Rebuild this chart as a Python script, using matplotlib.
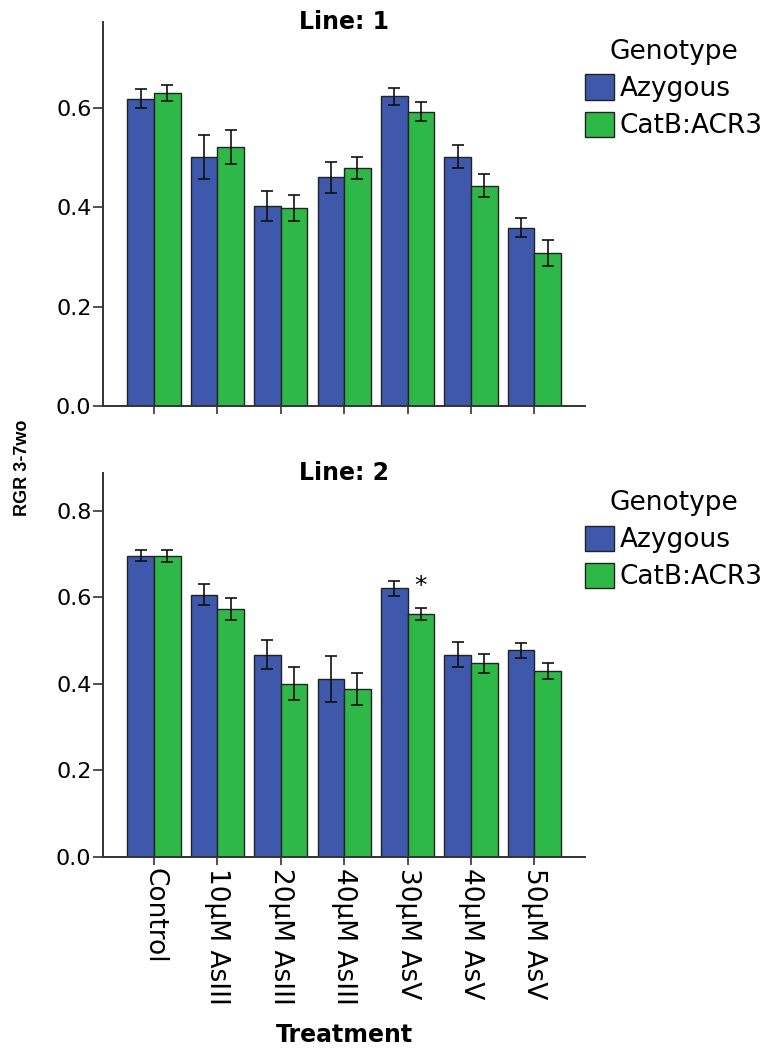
import matplotlib
matplotlib.use("Agg")
import matplotlib.pyplot as plt
import numpy as np
from matplotlib.ticker import FormatStrFormatter

categories = ["Control", "10µM AsIII", "20µM AsIII", "40µM AsIII",
              "30µM AsV", "40µM AsV", "50µM AsV"]
genotypes = ["Azygous", "CatB:ACR3"]

line1_azygous = [0.619, 0.501, 0.403, 0.461, 0.624, 0.502, 0.359]
line1_azygous_err = [0.019, 0.044, 0.031, 0.031, 0.017, 0.023, 0.019]
line1_catb = [0.631, 0.521, 0.398, 0.479, 0.593, 0.444, 0.308]
line1_catb_err = [0.016, 0.034, 0.026, 0.022, 0.020, 0.024, 0.026]

line2_azygous = [0.696, 0.606, 0.467, 0.411, 0.620, 0.467, 0.477]
line2_azygous_err = [0.013, 0.025, 0.033, 0.053, 0.018, 0.029, 0.017]
line2_catb = [0.695, 0.573, 0.400, 0.387, 0.561, 0.447, 0.430]
line2_catb_err = [0.013, 0.026, 0.038, 0.037, 0.013, 0.021, 0.018]

panel_titles = ["Line: 1", "Line: 2"]
line1_yticks = [0.0, 0.2, 0.4, 0.6]
line2_yticks = [0.0, 0.2, 0.4, 0.6, 0.8]
star_index = 4  # 30µM AsV, CatB:ACR3 in Line 2

colors = ["#3E58AC", "#2EB848"]
edge = "#222222"
spine_col = "#333333"

plt.rcParams['font.family'] = ['DejaVu Sans']

W, H = 778, 1053
fig = plt.figure(figsize=(W / 100, H / 100), dpi=100)

def fx(px):
    return px / W

def fy(py):
    return 1 - py / H

left, right = 103.3, 585
ax1 = fig.add_axes([fx(left), fy(406), fx(right) - fx(left), fy(21.7) - fy(406)])
ax2 = fig.add_axes([fx(left), fy(857), fx(right) - fx(left), fy(473.3) - fy(857)])

x = np.arange(len(categories))
bw = 0.42

panels = [
    (ax1, line1_azygous, line1_azygous_err, line1_catb, line1_catb_err, line1_yticks, 0.774),
    (ax2, line2_azygous, line2_azygous_err, line2_catb, line2_catb_err, line2_yticks, 0.886),
]

for i, (ax, az, aze, cb, cbe, yt, ytop) in enumerate(panels):
    b1 = ax.bar(x - bw / 2, az, bw, color=colors[0], edgecolor=edge, linewidth=1.0, label=genotypes[0], zorder=2)
    b2 = ax.bar(x + bw / 2, cb, bw, color=colors[1], edgecolor=edge, linewidth=1.0, label=genotypes[1], zorder=2)
    ax.errorbar(x - bw / 2, az, yerr=aze, fmt='none', ecolor='#111111', elinewidth=1.2, capsize=4, capthick=1.2, zorder=3)
    ax.errorbar(x + bw / 2, cb, yerr=cbe, fmt='none', ecolor='#111111', elinewidth=1.2, capsize=4, capthick=1.2, zorder=3)
    ax.set_xlim(-0.8, len(categories) - 0.2)
    ax.set_ylim(0, ytop)
    ax.set_yticks(yt)
    ax.yaxis.set_major_formatter(FormatStrFormatter('%.1f'))
    ax.set_xticks(x)
    for s in ['top', 'right']:
        ax.spines[s].set_visible(False)
    for s in ['left', 'bottom']:
        ax.spines[s].set_color(spine_col)
        ax.spines[s].set_linewidth(1.4)
    ax.tick_params(axis='y', direction='out', length=7, width=1.2, color=spine_col, labelsize=16, pad=1.5)
    ax.tick_params(axis='x', direction='out', length=6, width=1.2, color=spine_col, labelsize=19, pad=2)
    ax.text(0.5, 1.0, panel_titles[i], transform=ax.transAxes, ha='center', va='center',
            fontsize=17, fontweight='bold')
    leg = ax.legend(handles=[b1, b2], labels=genotypes, title="Genotype",
                    loc='upper left', bbox_to_anchor=(fx(585), fy(39 if i == 0 else 490)),
                    bbox_transform=fig.transFigure, frameon=False,
                    fontsize=19, title_fontsize=19, borderpad=0, borderaxespad=0,
                    handlelength=1.1, handleheight=1.1, handletextpad=0.2,
                    labelspacing=0.36)
    leg._legend_box.align = "center"

ax1.set_xticklabels([])
ax2.set_xticklabels(categories, rotation=-90, ha='center', va='top')

# significance marker
ax2.text(x[star_index] + bw / 2, line2_catb[star_index] + line2_catb_err[star_index] + 0.052, "*",
         ha='center', va='center', fontsize=18)

fig.text(fx(344), fy(1035), "Treatment", ha='center', va='center', fontsize=17, fontweight='bold')
fig.text(fx(23), fy(468), "RGR 3-7wo", ha='center', va='center', rotation=90, fontsize=13,
         fontweight='bold', family=['Liberation Sans', 'DejaVu Sans'])

fig.savefig("out.png", dpi=100)
